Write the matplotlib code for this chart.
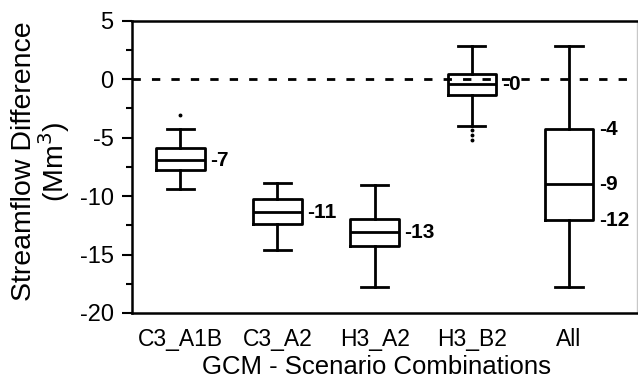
import matplotlib
matplotlib.use("Agg")
import matplotlib.pyplot as plt
from matplotlib.ticker import MultipleLocator

plt.rcParams['font.family'] = ['Liberation Sans', 'DejaVu Sans']
plt.rcParams['axes.unicode_minus'] = False

# box statistics per GCM/scenario combination (Mm3)
groups = ["C3_A1B", "C3_A2", "H3_A2", "H3_B2", "All"]
whislo = [-9.4, -14.6, -17.8, -4.02, -17.75]
q1 = [-7.75, -12.39, -14.3, -1.37, -12.05]
med = [-6.95, -11.39, -13.1, -0.45, -9.0]
q3 = [-5.87, -10.28, -11.94, 0.43, -4.27]
whishi = [-4.27, -8.86, -9.06, 2.85, 2.85]
fliers = [[-3.08], [], [], [-4.36, -4.76, -5.21], []]

stats = []
for i, g in enumerate(groups):
    stats.append(dict(label=g, whislo=whislo[i], q1=q1[i], med=med[i],
                      q3=q3[i], whishi=whishi[i], fliers=fliers[i]))

fig = plt.figure(figsize=(6.38, 3.81), dpi=100)
ax = fig.add_axes([0.2063, 0.1785, 0.7922, 0.767])

lw = 2.0
pos = list(range(1, len(groups) + 1))
ax.bxp(stats, positions=pos, widths=0.5, showfliers=True,
       boxprops=dict(color='black', linewidth=lw),
       medianprops=dict(color='black', linewidth=lw),
       whiskerprops=dict(color='black', linewidth=lw),
       capprops=dict(color='black', linewidth=lw),
       capwidths=0.28,
       flierprops=dict(marker='o', markersize=1.8, markerfacecolor='black',
                       markeredgecolor='black', linestyle='none'))

ax.axhline(0, color='black', linestyle=(0, (3, 4)), linewidth=lw, zorder=3)

# value labels next to each box
def put_label(x, y):
    ax.annotate(f"{y:.0f}", xy=(x + 0.25, y), xytext=(4, 0),
                textcoords='offset points', ha='left', va='center',
                fontsize=15, fontweight='bold')

for i in range(4):
    put_label(pos[i], med[i])
put_label(pos[4], q3[4])
put_label(pos[4], med[4])
put_label(pos[4], q1[4])

ax.set_xlim(0.5, 5.7)
ax.set_ylim(-20, 5)
ax.yaxis.set_major_locator(MultipleLocator(5))
ax.yaxis.set_minor_locator(MultipleLocator(2.5))
ax.tick_params(axis='y', which='major', length=7, width=1.5, labelsize=17, pad=6)
ax.tick_params(axis='y', which='minor', length=4, width=1.5)
ax.tick_params(axis='x', length=0, labelsize=16.5, pad=10.5)
ax.set_xticks(pos)
ax.set_xticklabels(groups)

for s in ['left', 'top', 'bottom']:
    ax.spines[s].set_linewidth(1.8)
ax.spines['right'].set_color('#c8c8c8')
ax.spines['right'].set_linewidth(1.0)

ax.set_xlabel("GCM - Scenario Combinations", fontsize=18.5)
ax.xaxis.set_label_coords(0.485, -0.143)
ax.set_ylabel("Streamflow Difference\n(Mm$^3$)", fontsize=20.5,
              linespacing=0.95)
ax.yaxis.set_label_coords(-0.118, 0.518)

fig.savefig("out.png", dpi=100)
